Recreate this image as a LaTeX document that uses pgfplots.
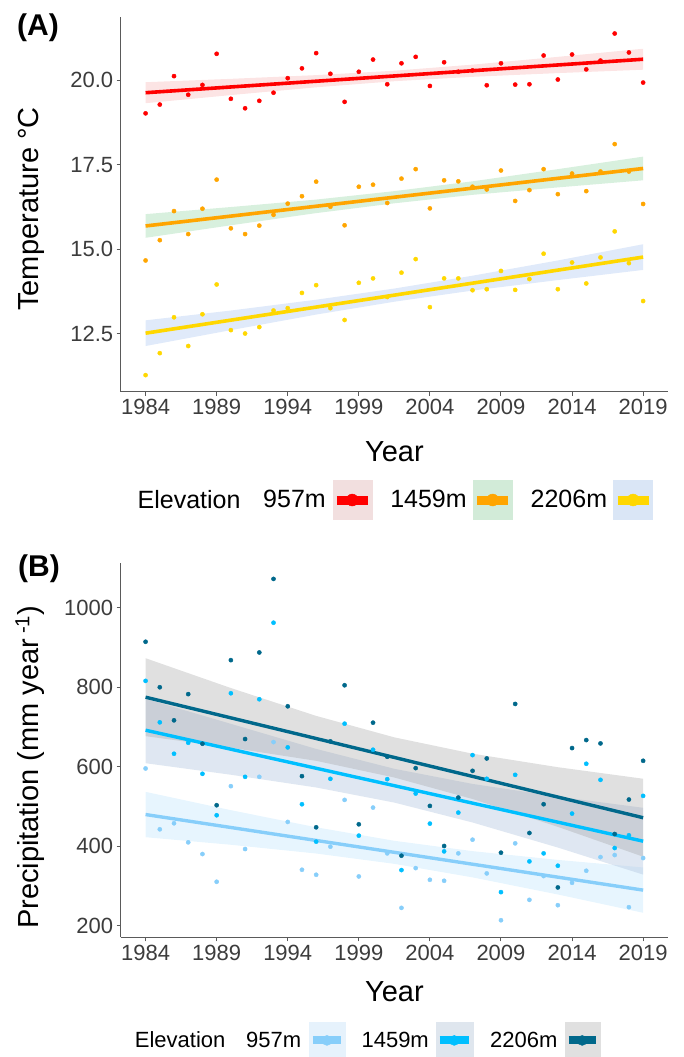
\documentclass[border=0pt]{standalone}
\usepackage{pgfplots}
\usepackage{pgfplotstable}
\pgfplotsset{compat=1.18}
\usepackage{fontspec}
\setmainfont{Liberation Sans}

\definecolor{cRed}{RGB}{255,0,0}
\definecolor{cOrange}{RGB}{255,165,0}
\definecolor{cYellow}{RGB}{255,215,0}
\definecolor{bRed}{RGB}{252,228,228}
\definecolor{bGreen}{RGB}{216,240,222}
\definecolor{bBlue}{RGB}{224,234,250}
\definecolor{lRed}{RGB}{242,223,223}
\definecolor{lGreen}{RGB}{210,235,216}
\definecolor{lBlue}{RGB}{218,230,246}
\definecolor{pLight}{RGB}{135,206,250}
\definecolor{pMed}{RGB}{0,191,255}
\definecolor{pDark}{RGB}{0,104,139}
\definecolor{fLight}{RGB}{135,206,250}
\definecolor{fMed}{RGB}{176,196,222}
\definecolor{fDark}{RGB}{153,153,153}
\definecolor{kLight}{RGB}{230,242,252}
\definecolor{kMed}{RGB}{223,230,238}
\definecolor{kDark}{RGB}{224,224,224}
\definecolor{axgray}{RGB}{90,90,90}
\definecolor{tickgray}{RGB}{60,60,60}

\pgfplotstableread{
year r o y
1984 19.02 14.67 11.28
1985 19.28 15.27 11.93
1986 20.12 16.13 12.99
1987 19.57 15.45 12.14
1988 19.86 16.20 13.08
1989 20.78 17.06 13.96
1990 19.45 15.62 12.61
1991 19.17 15.45 12.51
1992 19.39 15.70 12.70
1993 19.63 16.02 13.19
1994 20.06 16.35 13.26
1995 20.35 16.57 13.71
1996 20.80 17.00 13.94
1997 20.19 16.26 13.26
1998 19.36 15.71 12.91
1999 20.25 16.85 14.01
2000 20.61 16.91 14.14
2001 19.88 16.37 13.59
2002 20.50 17.09 14.31
2003 20.69 17.37 14.71
2004 19.83 16.21 13.29
2005 20.53 17.04 14.14
2006 20.25 17.01 14.14
2007 20.29 16.85 13.79
2008 19.85 16.77 13.82
2009 20.50 17.33 14.36
2010 19.87 16.43 13.80
2011 19.88 16.75 14.12
2012 20.73 17.37 14.87
2013 20.02 16.63 13.82
2014 20.76 17.24 14.61
2015 20.32 16.72 13.99
2016 20.58 17.30 14.76
2017 21.38 18.11 15.53
2018 20.82 17.30 14.59
2019 19.93 16.34 13.47
}\tempdata

\pgfplotstableread{
year l m d
1984 595.8 816.0 914.3
1985 442.9 711.8 800.0
1986 458.0 632.8 716.8
1987 410.1 660.5 782.7
1988 380.7 582.4 658.0
1989 311.0 478.2 503.4
1990 551.3 784.9 868.1
1991 393.3 574.8 669.8
1992 574.8 769.8 887.4
1993 662.2 962.2 1072.3
1994 461.4 648.8 752.1
1995 341.2 505.9 576.5
1996 328.6 411.8 447.9
1997 399.2 569.8 663.9
1998 516.8 708.4 805.0
1999 324.4 426.9 455.5
2000 497.5 642.9 710.9
2001 382.4 568.9 625.2
2002 245.4 340.4 376.5
2003 345.4 532.8 596.7
2004 316.0 457.2 501.7
2005 313.5 387.4 400.9
2006 382.4 484.9 522.7
2007 416.8 629.4 589.9
2008 332.0 569.8 621.0
2009 214.3 284.9 384.1
2010 407.6 579.8 758.0
2011 265.6 362.2 433.6
2012 325.3 382.4 505.9
2013 252.1 351.3 296.7
2014 308.4 482.4 647.1
2015 338.7 607.6 667.2
2016 373.1 567.2 658.8
2017 378.2 395.8 431.1
2018 247.1 427.8 517.7
2019 370.6 526.9 615.1
}\precdata

\pgfplotsset{
  myaxis/.style={
    scale only axis, width=547.3pt, height=374.4pt,
    axis x line*=bottom, axis y line*=left,
    axis line style={-, color=axgray, line width=1pt},
    xmin=1982.25, xmax=2020.75,
    xtick={1984,1989,1994,1999,2004,2009,2014,2019},
    xticklabels={1984,1989,1994,1999,2004,2009,2014,2019},
    tick align=outside, major tick length=4pt,
    tick style={color=axgray, line width=1pt},
    ticklabel style={font=\fontsize{22}{22}\selectfont, color=tickgray},
    label style={font=\fontsize{29}{29}\selectfont, color=black},
    clip=false,
    legend columns=-1,
    legend plot pos=right,
  },
}

\begin{document}
\begin{tikzpicture}[x=1pt,y=1pt]
\path[use as bounding box] (0,0) rectangle (683,1057);

% ---------------- Panel A ----------------
\begin{axis}[myaxis,
  at={(120.7pt,665.3pt)}, anchor=south west,
  ymin=10.79, ymax=21.86,
  ytick={12.5,15,17.5,20},
  yticklabels={12.5,15.0,17.5,20.0},
  xlabel={Year}, ylabel={Temperature °C},
  xlabel style={at={(axis description cs:0.5,-0.1597)}, anchor=center},
  ylabel style={at={(axis description cs:-0.1639,0.488)}, anchor=center, rotate=0},
  legend style={at={(axis description cs:0.031,-0.2893)}, anchor=west,
    draw=none, fill=none, inner sep=0pt, outer sep=0pt,
    font=\fontsize{25}{25}\selectfont,
    nodes={inner sep=0pt, outer sep=0pt},
    /tikz/column sep=0pt},
]
\addplot[forget plot, only marks, mark=*, mark size=2.1pt, color=cRed, mark options={draw=none}] table[x=year,y=r]{\tempdata};
\addplot[forget plot, only marks, mark=*, mark size=2.1pt, color=cOrange, mark options={draw=none}] table[x=year,y=o]{\tempdata};
\addplot[forget plot, only marks, mark=*, mark size=2.1pt, color=cYellow, mark options={draw=none}] table[x=year,y=y]{\tempdata};

\addplot[forget plot, fill=bRed, draw=none] coordinates {
 (1984,19.94) (1990,20.04) (1996,20.15) (2001.5,20.28) (2007,20.46) (2013,20.69) (2019,20.93)
 (2019,20.31) (2013,20.21) (2007,20.10) (2001.5,19.97) (1996,19.79) (1990,19.56) (1984,19.32)} -- cycle;
\addplot[forget plot, fill=bGreen, draw=none] coordinates {
 (1984,16.04) (1990,16.25) (1996,16.47) (2001.5,16.72) (2007,17.01) (2013,17.37) (2019,17.74)
 (2019,17.04) (2013,16.83) (2007,16.61) (2001.5,16.36) (1996,16.07) (1990,15.71) (1984,15.34)} -- cycle;
\addplot[forget plot, fill=bBlue, draw=none] coordinates {
 (1984,12.90) (1990,13.19) (1996,13.51) (2001.5,13.84) (2007,14.22) (2013,14.67) (2019,15.15)
 (2019,14.39) (2013,14.09) (2007,13.78) (2001.5,13.45) (1996,13.07) (1990,12.61) (1984,12.14)} -- cycle;

\addplot[forget plot, cRed, line width=3.6pt] coordinates {(1984,19.63) (2019,20.62)};
\addplot[forget plot, cOrange, line width=3.6pt] coordinates {(1984,15.69) (2019,17.39)};
\addplot[forget plot, cYellow, line width=3.6pt] coordinates {(1984,12.52) (2019,14.77)};

\addlegendimage{empty legend}
\addlegendentry{Elevation\hspace{22.7pt}\mbox{}}
\addlegendimage{legend image code/.code={
  \fill[lRed] (0pt,-19.5pt) rectangle (39pt,19.5pt);
  \draw[cRed, line width=9pt] (4pt,0pt) -- (35pt,0pt);
  \fill[cRed] (19.5pt,0pt) circle (6pt);}}
\addlegendentry{957m\hspace{6.5pt}\mbox{}}
\addlegendimage{legend image code/.code={
  \fill[lGreen] (0pt,-19.5pt) rectangle (39pt,19.5pt);
  \draw[cOrange, line width=9pt] (4pt,0pt) -- (35pt,0pt);
  \fill[cOrange] (19.5pt,0pt) circle (6pt);}}
\addlegendentry{\mbox{}\hspace{18pt}1459m\hspace{6pt}\mbox{}}
\addlegendimage{legend image code/.code={
  \fill[lBlue] (0pt,-19.5pt) rectangle (39pt,19.5pt);
  \draw[cYellow, line width=9pt] (4pt,0pt) -- (35pt,0pt);
  \fill[cYellow] (19.5pt,0pt) circle (6pt);}}
\addlegendentry{\mbox{}\hspace{18pt}2206m\hspace{6pt}\mbox{}}
\end{axis}

\node[font=\bfseries\fontsize{30}{30}\selectfont] at (38,1029.5) {(A)};

% ---------------- Panel B ----------------
\begin{axis}[myaxis,
  at={(120.7pt,119.7pt)}, anchor=south west,
  ymin=171.4, ymax=1112.6,
  ytick={200,400,600,800,1000},
  yticklabels={200,400,600,800,1000},
  xlabel={Year}, ylabel={Precipitation (mm year\,\textsuperscript{-1})},
  xlabel style={at={(axis description cs:0.5,-0.1447)}, anchor=center},
  ylabel style={at={(axis description cs:-0.166,0.454)}, anchor=center, rotate=0},
  legend style={at={(axis description cs:0.026,-0.2755)}, anchor=west,
    draw=none, fill=none, inner sep=0pt, outer sep=0pt,
    font=\fontsize{22}{22}\selectfont,
    nodes={inner sep=0pt, outer sep=0pt},
    /tikz/column sep=0pt},
]
\addplot[forget plot, only marks, mark=*, mark size=2.1pt, color=pLight, mark options={draw=none}] table[x=year,y=l]{\precdata};
\addplot[forget plot, only marks, mark=*, mark size=2.1pt, color=pMed, mark options={draw=none}] table[x=year,y=m]{\precdata};
\addplot[forget plot, only marks, mark=*, mark size=2.1pt, color=pDark, mark options={draw=none}] table[x=year,y=d]{\precdata};

\addplot[forget plot, fill=fLight, fill opacity=0.2, draw=none] coordinates {
 (1984,537) (1990,491) (1996,448) (2001.5,414) (2007,388) (2013,366) (2019,347)
 (2019,233) (2013,279) (2007,322) (2001.5,356) (1996,382) (1990,404) (1984,423)} -- cycle;
\addplot[forget plot, fill=fMed, fill opacity=0.4, draw=none] coordinates {
 (1984,771) (1990,708) (1996,645) (2001.5,595) (2007,557) (2013,525) (2019,497)
 (2019,329) (2013,397) (2007,460) (2001.5,510) (1996,548) (1990,580) (1984,609)} -- cycle;
\addplot[forget plot, fill=fDark, fill opacity=0.3, draw=none] coordinates {
 (1984,873) (1990,798) (1996,728) (2001.5,674) (2007,633) (2013,599) (2019,570)
 (2019,374) (2013,449) (2007,519) (2001.5,573) (1996,615) (1990,648) (1984,677)} -- cycle;

\addplot[forget plot, pLight, line width=3.4pt] coordinates {(1984,480) (2019,290)};
\addplot[forget plot, pMed, line width=3.4pt] coordinates {(1984,692) (2019,413)};
\addplot[forget plot, pDark, line width=3.4pt] coordinates {(1984,775) (2019,472)};

\addlegendimage{empty legend}
\addlegendentry{Elevation\hspace{20.7pt}\mbox{}}
\addlegendimage{legend image code/.code={
  \fill[kLight] (0pt,-18pt) rectangle (36pt,18pt);
  \draw[pLight, line width=8pt] (4pt,0pt) -- (32pt,0pt);
  \fill[pLight] (18pt,0pt) circle (5pt);}}
\addlegendentry{957m\hspace{7.6pt}\mbox{}}
\addlegendimage{legend image code/.code={
  \fill[kMed] (0pt,-18pt) rectangle (37pt,18pt);
  \draw[pMed, line width=8pt] (4pt,0pt) -- (33pt,0pt);
  \fill[pMed] (18.5pt,0pt) circle (5pt);}}
\addlegendentry{\mbox{}\hspace{16.4pt}1459m\hspace{6.7pt}\mbox{}}
\addlegendimage{legend image code/.code={
  \fill[kDark] (0pt,-18pt) rectangle (35pt,18pt);
  \draw[pDark, line width=8pt] (4pt,0pt) -- (31pt,0pt);
  \fill[pDark] (17.5pt,0pt) circle (5pt);}}
\addlegendentry{\mbox{}\hspace{17.3pt}2206m\hspace{7pt}\mbox{}}
\end{axis}

\node[font=\bfseries\fontsize{30}{30}\selectfont] at (39,488) {(B)};
\end{tikzpicture}
\end{document}
